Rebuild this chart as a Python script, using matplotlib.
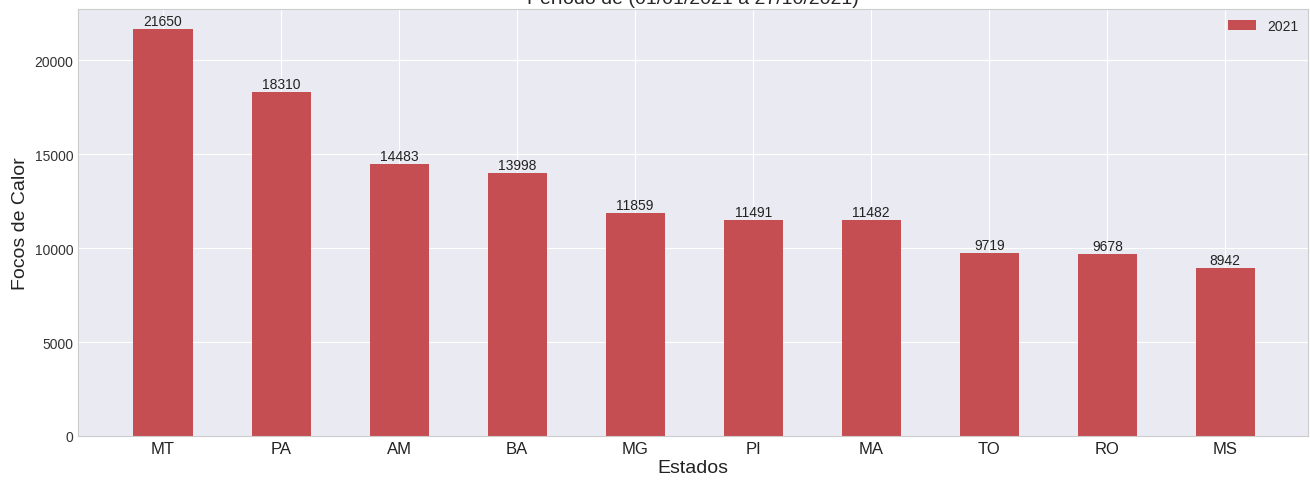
import matplotlib
matplotlib.use('Agg')
import matplotlib.pyplot as plt
import numpy as np

estados = ['MT', 'PA', 'AM', 'BA', 'MG', 'PI', 'MA', 'TO', 'RO', 'MS']
focos_2021 = [21650, 18310, 14483, 13998, 11859, 11491, 11482, 9719, 9678, 8942]

plt.style.use('seaborn-v0_8-darkgrid')
plt.rcParams['font.family'] = ['Liberation Sans', 'DejaVu Sans']

fig = plt.figure(figsize=(13.1, 4.81), dpi=100)
ax = fig.add_axes([78 / 1310, 44 / 481, 1230 / 1310, 427 / 481])

x = np.arange(len(estados))
bars = ax.bar(x, focos_2021, width=0.5, color='#C44E52', label='2021')

# rótulos em cima das barras
for xi, v in zip(x, focos_2021):
    ax.annotate(str(v), (xi, v), xytext=(0, 1), textcoords='offset points',
                ha='center', va='bottom', fontsize=10, color='#222222')

ax.set_xticks(x)
ax.set_xticklabels(estados, fontsize=12, color='#222222')
ax.tick_params(axis='y', labelsize=10, labelcolor='#333333')
ax.set_xlim(-0.72, 9.7)
ax.set_ylim(0, 21650 * 1.05)
ax.set_xlabel('Estados', fontsize=14, labelpad=2, color='#222222')
ax.set_ylabel('Focos de Calor', fontsize=14, color='#222222')
ax.set_title('Período de (01/01/2021 a 27/10/2021)', fontsize=14, pad=4.5)
for s in ax.spines.values():
    s.set_visible(True)
    s.set_color('#cccccc')
    s.set_linewidth(0.8)
ax.legend(loc='upper right', fontsize=10, borderaxespad=0.3)

fig.savefig('out.png', dpi=100)
